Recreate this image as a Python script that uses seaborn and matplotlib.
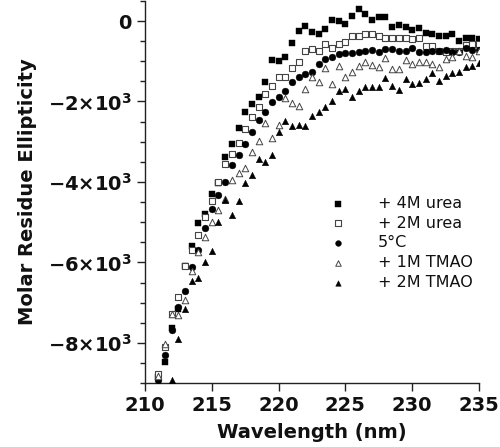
import numpy as np
import pandas as pd
import matplotlib
matplotlib.use("Agg")
import matplotlib.pyplot as plt
import seaborn as sns
from matplotlib.ticker import MultipleLocator, FixedLocator, FuncFormatter

# ---- data -------------------------------------------------------------
wavelength = [211 + 0.5 * i for i in range(49)]

urea_4M = [-8850, -8474, -7620, -7150, -6100, -5590, -5033, -4785, -4303, -4022,
           -3375, -3060, -2670, -2264, -2056, -1899, -1509, -970, -995, -887,
           -539, -249, -116, -265, -323, -207, 17, -8, -66, 133,
           298, 174, 17, 100, 100, -158, -100, -158, -232, -182,
           -290, -315, -381, -365, -332, -506, -431, -431, -456]

urea_2M = [-8765, -8100, -7272, -6857, -6087, -5700, -5323, -4868, -4480, -4000,
           -3565, -3308, -3043, -2678, -2380, -2131, -1816, -1617, -1401, -1401,
           -1177, -1028, -746, -705, -746, -580, -663, -580, -531, -365,
           -373, -332, -323, -373, -415, -415, -415, -431, -440, -431,
           -614, -622, -738, -763, -746, -738, -597, -580, -580]

temp_5C = [-8914, -8309, -7670, -7100, -6709, -6110, -5680, -5150, -4661, -4330,
           -4000, -3582, -3334, -3060, -2770, -2470, -2255, -2007, -1899, -1733,
           -1509, -1401, -1318, -1260, -1078, -945, -904, -829, -804, -788,
           -763, -738, -721, -779, -705, -705, -738, -738, -680, -763,
           -763, -738, -738, -721, -763, -763, -680, -721, -721]

tmao_1M = [-8820, -8018, -7272, -7300, -6940, -6211, -5738, -5381, -4993, -4686,
           -4420, -3955, -3790, -3665, -3267, -2977, -2546, -2902, -2587, -1907,
           -2048, -2115, -1700, -1401, -1509, -1180, -1575, -1111, -1401, -1277,
           -1119, -1012, -1094, -1136, -912, -1194, -1194, -970, -1078, -1012,
           -1012, -1078, -1136, -954, -904, -738, -871, -904, -738]

tmao_2M = [np.nan, np.nan, -8914, -7894, -7148, -6468, -6377, -6000, -5713, -4992,
           -4453, -4826, -4486, -4022, -3831, -3441, -3516, -3333, -2753, -2479,
           -2612, -2587, -2612, -2363, -2255, -2148, -1982, -1733, -1700, -1899,
           -1733, -1634, -1634, -1634, -1426, -1617, -1716, -1451, -1575, -1551,
           -1443, -1285, -1493, -1368, -1285, -1260, -1153, -1119, -1053]

series_labels = ["+ 4M urea", "+ 2M urea", "5°C", "+ 1M TMAO", "+ 2M TMAO"]
x_ticks = [210, 215, 220, 225, 230, 235]
y_ticks = [0, -2000, -4000, -6000, -8000]

# ---- plot -------------------------------------------------------------
sns.set_style("ticks")
plt.rcParams["font.family"] = ["DejaVu Sans"]
plt.rcParams["mathtext.default"] = "bf"

fig = plt.figure(figsize=(5.0, 4.47), dpi=100)
ax = fig.add_axes([0.29, 0.143, 0.668, 0.855])

styles = [
    dict(marker="s", color="black", edgecolor="black", s=22, linewidth=0.3),
    dict(marker="s", color="white", edgecolor="#444444", s=22, linewidth=0.8),
    dict(marker="o", color="black", edgecolor="black", s=24, linewidth=0.3),
    dict(marker="^", color="white", edgecolor="#444444", s=22, linewidth=0.7),
    dict(marker="^", color="black", edgecolor="black", s=22, linewidth=0.3),
]
series = [urea_4M, urea_2M, temp_5C, tmao_1M, tmao_2M]

for vals, lab, st in zip(series, series_labels, styles):
    df = pd.DataFrame({"wl": wavelength, "val": vals})
    sns.scatterplot(data=df, x="wl", y="val", ax=ax, label=lab, zorder=3, **st)

ax.set_xlim(210, 235)
ax.set_ylim(-9000, 500)
ax.xaxis.set_major_locator(FixedLocator(x_ticks))
ax.yaxis.set_major_locator(FixedLocator(y_ticks))
ax.yaxis.set_minor_locator(MultipleLocator(500))


def yfmt(v, pos):
    if v == 0:
        return r"$0$"
    return r"$-%d{\times}10^{3}$" % int(round(-v / 1000))


ax.yaxis.set_major_formatter(FuncFormatter(yfmt))
ax.tick_params(axis="both", which="major", direction="out", length=6, width=1,
               labelsize=14, colors="#222222", labelcolor="#111111", pad=3)
ax.tick_params(axis="y", which="minor", direction="out", length=3.5, width=1,
               colors="#222222")
for lbl in ax.get_xticklabels():
    lbl.set_fontweight("bold")

ax.set_xlabel("Wavelength (nm)", fontsize=14, fontweight="bold", color="#111111",
              labelpad=6)
ax.set_ylabel("Molar Residue Ellipticity", fontsize=14, fontweight="bold",
              color="#111111", labelpad=8)

sns.despine(ax=ax)
for sp in ["left", "bottom"]:
    ax.spines[sp].set_linewidth(1)
    ax.spines[sp].set_color("#222222")

leg = ax.legend(loc="upper left", bbox_to_anchor=(0.554, 0.49), frameon=False,
                fontsize=11.5, handlelength=1.0, handletextpad=2.0,
                labelspacing=0.3, borderpad=0, borderaxespad=0, markerscale=0.85)
for t in leg.get_texts():
    t.set_color("#111111")

fig.savefig("out.png", dpi=100)
